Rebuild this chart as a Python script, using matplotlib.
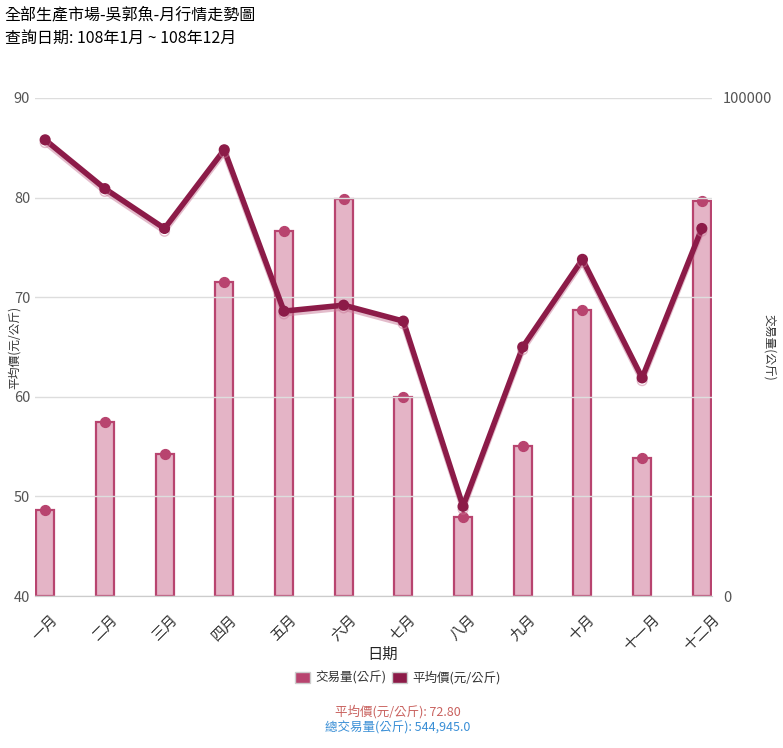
import matplotlib
matplotlib.use('Agg')
import matplotlib.pyplot as plt
import matplotlib.patheffects as pe
from matplotlib.patches import Patch

plt.rcParams['font.family'] = ['Noto Sans CJK TC', 'DejaVu Sans']

months = ['一月', '二月', '三月', '四月', '五月', '六月',
          '七月', '八月', '九月', '十月', '十一月', '十二月']
volume = [17300, 34900, 28500, 63000, 73300, 79700,
          40000, 15900, 30100, 57400, 27700, 79300]
price = [85.8, 80.9, 76.9, 84.8, 68.6, 69.2,
         67.6, 49.0, 65.0, 73.8, 61.9, 76.9]

bar_fill = '#e4b4c6'
bar_edge = '#b8446f'
line_col = '#8c1b48'

fig = plt.figure(figsize=(7.83, 7.48), dpi=100)
ax = fig.add_axes([0.0447, 0.2032, 0.8646, 0.6658])
ax2 = ax.twinx()
ax.set_zorder(ax2.get_zorder() + 1)
ax.patch.set_visible(False)

x = list(range(len(months)))

# volume bars on right axis
ax2.bar(x, volume, width=0.3, color=bar_fill, edgecolor=bar_edge, linewidth=1.6)
ax2.scatter(x, volume, s=50, color=bar_edge, zorder=3)
ax2.set_ylim(0, 100000)
ax2.set_yticks([0, 100000])
ax2.set_ylabel('交易量(公斤)', rotation=-90, fontsize=8.5, color='#333333', va='center')
ax2.yaxis.set_label_coords(1.085, 0.5)

# price line on left axis
ax.plot(x, price, color=line_col, linewidth=4, marker='o', markersize=7,
        path_effects=[pe.SimpleLineShadow(offset=(0, -2), shadow_color='#c97a98', alpha=0.5),
                      pe.Normal()])
ax.set_ylim(40, 90)
ax.set_yticks([40, 50, 60, 70, 80, 90])
ax.set_ylabel('平均價(元/公斤)', fontsize=8.5, color='#333333', va='center')
ax.yaxis.set_label_coords(-0.03, 0.5)
ax.set_xlim(-0.17, 11.17)
ax.set_xticks(x)
ax.set_xticklabels(months, rotation=45, fontsize=10.5, color='#333333')
ax.set_xlabel('日期', fontsize=11, color='#222222', va='center')
ax.xaxis.set_label_coords(0.514, -0.118)

ax.grid(axis='y', color='#dddddd', linewidth=1)
ax.set_axisbelow(True)
for a in (ax, ax2):
    for s in ('top', 'left', 'right'):
        a.spines[s].set_visible(False)
    a.spines['bottom'].set_color('#cccccc')
    a.tick_params(axis='y', length=0, labelsize=10.5, labelcolor='#555555')
ax.tick_params(axis='x', length=0, pad=12)
ax2.tick_params(axis='y', pad=8)

handles = [Patch(facecolor=bar_edge, edgecolor='#cccccc'),
           Patch(facecolor=line_col, edgecolor='#cccccc')]
fig.legend(handles, ['交易量(公斤)', '平均價(元/公斤)'], loc='center',
           bbox_to_anchor=(0.508, 0.094), ncol=2, frameon=False, fontsize=9,
           handlelength=1.2, handleheight=1.0, columnspacing=0.5, handletextpad=0.4,
           labelcolor='#333333')

fig.text(0.006, 0.98, '全部生產市場-吳郭魚-月行情走勢圖', fontsize=11.5, va='center')
fig.text(0.006, 0.949, '查詢日期: 108年1月 ~ 108年12月', fontsize=11.5, va='center')

fig.text(0.508, 0.048, '平均價(元/公斤): 72.80', fontsize=9, color='#c9625f',
         ha='center', va='center')
fig.text(0.508, 0.027, '總交易量(公斤): 544,945.0', fontsize=9, color='#3a8fd6',
         ha='center', va='center')

fig.savefig('out.png', dpi=100)
